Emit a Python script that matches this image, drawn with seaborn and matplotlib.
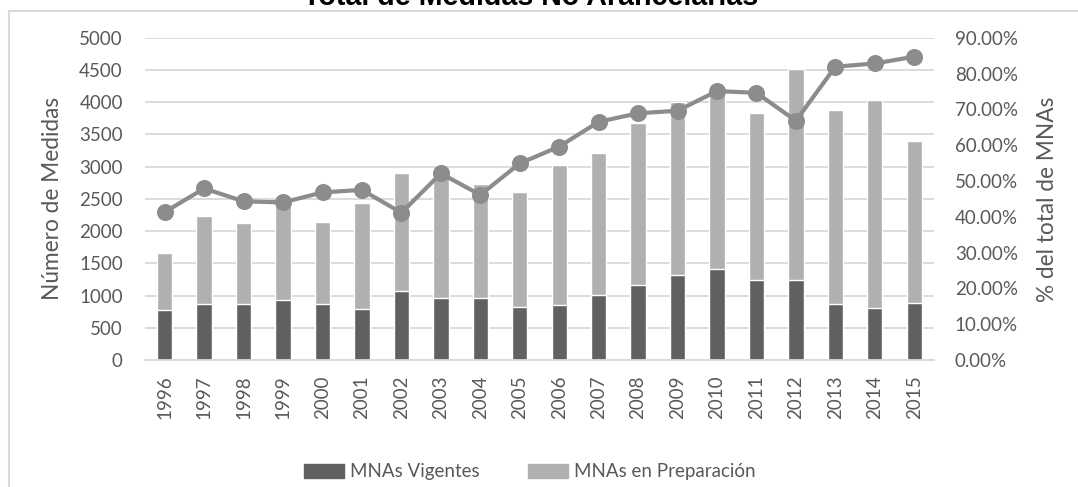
import pandas as pd
import numpy as np
import matplotlib
matplotlib.use('Agg')
import matplotlib.pyplot as plt
import seaborn as sns
from matplotlib.ticker import FuncFormatter, MultipleLocator
from matplotlib.patches import Patch
from matplotlib.lines import Line2D

sns.set_style('white')
plt.rcParams['font.family'] = ['Lato', 'DejaVu Sans']

# values
years = ['1996', '1997', '1998', '1999', '2000', '2001', '2002', '2003', '2004', '2005',
         '2006', '2007', '2008', '2009', '2010', '2011', '2012', '2013', '2014', '2015']
vigentes = [776, 869, 863, 936, 869, 791, 1070, 962, 967, 827,
            853, 1008, 1163, 1318, 1411, 1236, 1241, 869, 807, 884]
preparacion = [879, 1370, 1267, 1484, 1271, 1649, 1830, 1918, 1763, 1779,
               2171, 2208, 2508, 2678, 2699, 2600, 3272, 3009, 3226, 2513]
pct_total = [41.3, 47.9, 44.3, 44.0, 46.8, 47.5, 41.1, 52.1, 46.1, 54.9,
             59.6, 66.5, 68.9, 69.6, 75.1, 74.6, 66.8, 81.9, 82.8, 84.7]

df = pd.DataFrame({'year': years, 'vig': vigentes, 'prep': preparacion, 'pct': pct_total})
df['total'] = df.vig + df.prep

dark = '#606060'
light = '#b0b0b0'
line_c = '#8c8c8c'
txt = '#595959'
grid_c = '#d9d9d9'
fs = 13.5

fig = plt.figure(figsize=(10.78, 4.87), dpi=100)
ax = fig.add_axes([0.1345, 0.2608, 0.7319, 0.6618])

sns.barplot(data=df, x='year', y='total', color=light, width=0.39, saturation=1, ax=ax)
sns.barplot(data=df, x='year', y='vig', color=dark, width=0.39, saturation=1, ax=ax)

ax.set_ylim(0, 5000)
ax.yaxis.set_major_locator(MultipleLocator(500))
ax.grid(axis='y', color=grid_c, lw=1.3)
ax.set_axisbelow(True)
for s in ['top', 'right', 'left']:
    ax.spines[s].set_visible(False)
ax.spines['bottom'].set_color(grid_c)
ax.spines['bottom'].set_linewidth(1.3)
ax.tick_params(axis='both', length=0, labelsize=fs, labelcolor=txt)
ax.tick_params(axis='y', pad=16)
ax.tick_params(axis='x', pad=11, labelrotation=90)
ax.set_xlabel('')
ax.set_ylabel('Número de Medidas', fontsize=16.3, color=txt)
ax.yaxis.set_label_coords(-0.104, 0.5)

ax2 = ax.twinx()
sns.pointplot(data=df, x='year', y='pct', color=line_c, ax=ax2,
              markersize=10, linewidth=3, errorbar=None)
ax2.set_ylim(0, 90)
ax2.yaxis.set_major_locator(MultipleLocator(10))
ax2.yaxis.set_major_formatter(FuncFormatter(lambda v, p: f'{v:.2f}%'))
ax2.grid(False)
for s in ['top', 'right', 'left', 'bottom']:
    ax2.spines[s].set_visible(False)
ax2.tick_params(axis='y', length=0, labelsize=fs, labelcolor=txt, pad=15)
ax2.set_xlabel('')
ax2.set_ylabel('% del total de MNAs', fontsize=16.3, color=txt)
ax2.yaxis.set_label_coords(1.1305, 0.5)

fig.text(0.4926, 1 - 5 / 487, 'Total de Medidas No Arancelarias', ha='center', va='baseline',
         fontsize=20.6, fontweight='bold', family='Liberation Sans', color='black')

handles = [Patch(color=dark, label='MNAs Vigentes'), Patch(color=light, label='MNAs en Preparación')]
fig.legend(handles=handles, loc='center', bbox_to_anchor=(0.4917, 1 - 472 / 487), ncol=2,
           frameon=False, fontsize=fs, labelcolor=txt, handlelength=2.13, handleheight=0.7,
           handletextpad=0.32, columnspacing=2.56)

# chart area border (only top and left edges are visible in the crop)
fig.add_artist(Line2D([9 / 1078, 9 / 1078], [0, 1 - 11 / 487], color=grid_c, lw=1.5))
fig.add_artist(Line2D([9 / 1078, 1], [1 - 11 / 487, 1 - 11 / 487], color=grid_c, lw=1.5))

fig.savefig('out.png', dpi=100)
